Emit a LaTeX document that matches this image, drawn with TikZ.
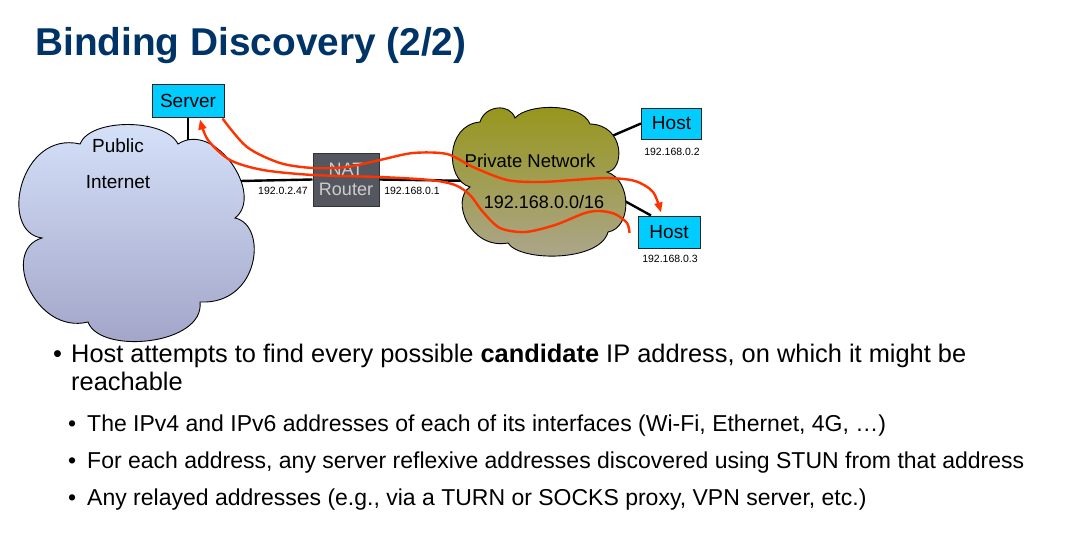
\documentclass[tikz,border=0pt]{standalone}
\usepackage{fontspec}
\setmainfont{Liberation Sans}
\usetikzlibrary{arrows.meta}
\definecolor{titleblue}{RGB}{0,51,102}
\definecolor{boxcyan}{RGB}{0,204,255}
\definecolor{natgray}{RGB}{84,87,95}
\definecolor{natfont}{RGB}{205,205,205}
\definecolor{flowred}{RGB}{255,51,0}
\definecolor{pubtop}{RGB}{214,226,250}
\definecolor{pubbot}{RGB}{160,162,198}
\definecolor{privtop}{RGB}{150,150,26}
\definecolor{privbot}{RGB}{172,166,142}
\newcommand{\fsz}[1]{\fontsize{#1}{#1}\selectfont}
\begin{document}
\begin{tikzpicture}[x=1pt,y=-1pt,
  hostbox/.style={draw=black!85, line width=1pt, fill=boxcyan, inner sep=0pt, font=\fsz{19}},
  natbox/.style={draw=black!80, line width=1pt, fill=natgray, inner sep=0pt, text=natfont, align=center, font=\fontsize{18}{20}\selectfont},
  iplabel/.style={inner sep=0pt, font=\fsz{10.5}},
  cloudlabel/.style={inner sep=0pt},
  link/.style={line width=2.4pt, black},
  cloudline/.style={draw=black, line width=0.9pt},
  flow/.style={flowred, line width=2.4pt, -{Triangle[length=10pt,width=8pt]}},
  txt/.style={anchor=base west, inner sep=0pt}]
\useasboundingbox (0,0) rectangle (1065,533);

% title
\node[txt, text=titleblue, font=\fontsize{38.8}{40}\selectfont\bfseries] (title) at (35,55) {Binding Discovery (2/2)};

% devices
\node[hostbox, minimum width=72pt, minimum height=33pt] (srv) at (188,100.5) {Server};
\node[hostbox, minimum width=60pt, minimum height=31pt] (h1) at (671.5,123.5) {Host};
\node[hostbox, minimum width=62pt, minimum height=32pt] (h2) at (669,232) {Host};
\node[natbox, minimum width=66pt, minimum height=53pt] (nat) at (346,179.5) {NAT\\Router};

% attachment points inside the clouds
\coordinate (pubS) at (188,150);
\coordinate (pubR) at (240,181);
\coordinate (privL) at (478,181);
\coordinate (privH1) at (605,139);
\coordinate (privH2) at (612,194);

% wired links (drawn first, the clouds cover their ends)
\draw[link] (srv.south) -- (pubS);
\draw[link] (pubR) -- (nat.west);
\draw[link] (nat.east) -- (privL);
\draw[link] (privH1) -- (h1.west);
\draw[link] (privH2) -- ([xshift=-18pt]h2.north);

% public internet cloud
\shade[top color=pubtop, bottom color=pubbot, cloudline]
  (42,238) .. controls (-2,232) and (20,130) .. (80,144)
  .. controls (90,118) and (165,118) .. (178,144)
  .. controls (215,120) and (265,195) .. (235,218)
  .. controls (268,225) and (260,305) .. (200,302)
  .. controls (205,345) and (100,355) .. (88,322)
  .. controls (35,335) and (0,250) .. cycle;
\node[cloudlabel, font=\fsz{19}] (pub1) at (118,146) {Public};
\node[cloudlabel, font=\fsz{19}] (pub2) at (118,182) {Internet};

% private network cloud
\shade[top color=privtop, bottom color=privbot, cloudline]
  (470,187) .. controls (445,180) and (445,125) .. (480,122)
  .. controls (485,105) and (510,103) .. (515,118)
  .. controls (528,103) and (582,103) .. (590,124)
  .. controls (625,125) and (625,170) .. (607,172)
  .. controls (632,180) and (632,228) .. (608,232)
  .. controls (600,262) and (520,262) .. (508,243)
  .. controls (470,250) and (450,200) .. cycle;
\node[cloudlabel, font=\fsz{18.5}] (priv1) at (530,161) {Private Network};
\node[cloudlabel, font=\fsz{18}] (priv2) at (544,202) {192.168.0.0/16};

% address labels
\node[iplabel] (ipwan) at (283,190.5) {192.0.2.47};
\node[iplabel] (iplan) at (412,190.5) {192.168.0.1};
\node[iplabel] (iph1) at (672,151.5) {192.168.0.2};
\node[iplabel] (iph2) at (670,259) {192.168.0.3};

% binding request / response paths
\coordinate (a0) at ([xshift=-2pt,yshift=-1pt]srv.south east);
\coordinate (a1) at ([xshift=-8pt,yshift=3pt]h2.north);
\coordinate (b0) at ([xshift=-8pt,yshift=-1pt]h2.west);
\coordinate (b1) at ([xshift=12pt,yshift=-2pt]srv.south);
\draw[flow] plot[smooth] coordinates {(a0) (247,147) (280,163) (313,168) (347,167)
  (380,160) (413,153) (447,154) (473,167) (507,180) (540,182) (573,180) (607,178)
  (635,181) (653,192) (a1)};
\draw[flow] plot[smooth] coordinates {(b0) (627,223) (615,214) (600,211) (585,213)
  (555,225) (525,232) (500,228) (483,212) (470,195) (455,185) (430,180) (380,177)
  (313,175) (263,170) (230,160) (208,140) (b1)};

% bullet text
\node[txt, font=\fsz{25.4}] (bul1) at (53,362) {•};
\node[txt, font=\fsz{25.4}] (line1) at (71,362) {Host attempts to find every possible \textbf{candidate} IP address, on which it might be};
\node[txt, font=\fsz{25.4}] (line1b) at (71,390) {reachable};
\node[txt, font=\fsz{23}] (bul2) at (68,431) {•};
\node[txt, font=\fsz{23}] (sub1) at (87,431) {The IPv4 and IPv6 addresses of each of its interfaces (Wi-Fi, Ethernet, 4G, …)};
\node[txt, font=\fsz{23}] (bul3) at (68,468) {•};
\node[txt, font=\fsz{23}] (sub2) at (87,468) {For each address, any server reflexive addresses discovered using STUN from that address};
\node[txt, font=\fsz{23}] (bul4) at (68,505) {•};
\node[txt, font=\fsz{23}] (sub3) at (87,505) {Any relayed addresses (e.g., via a TURN or SOCKS proxy, VPN server, etc.)};
\end{tikzpicture}
\end{document}
